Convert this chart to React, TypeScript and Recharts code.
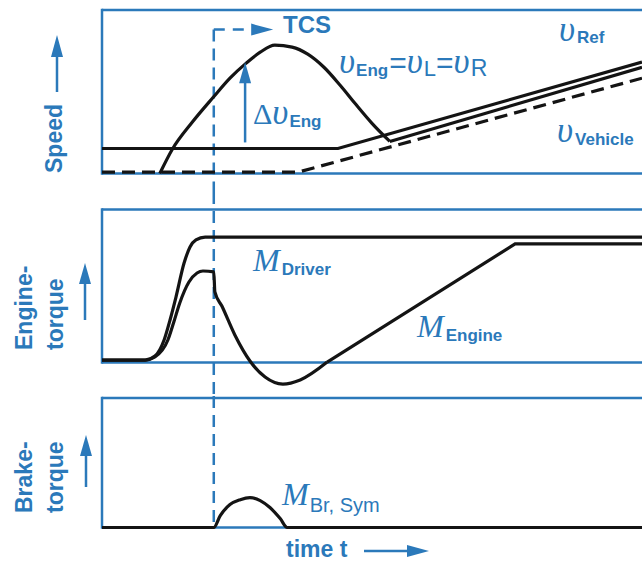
import { LineChart, Line, XAxis, YAxis, ReferenceLine, ReferenceDot } from 'recharts';

// time runs 0..100 across every panel, panel values are 0..100 inside their box
const tTCS = 20.7;

const speedRef = [
  { t: 0, v: 15.3 },
  { t: 43.7, v: 15.3 },
  { t: 100, v: 68.1 },
];

const speedVehicle = [
  { t: 0, v: 0.8 },
  { t: 36.3, v: 0.8 },
  { t: 100, v: 58.3 },
];

// engine speed flare until it locks onto the wheels
const speedEngFlare = [
  { t: 10.7, v: 0 },
  { t: 13.0, v: 14.7 },
  { t: 16.7, v: 31.3 },
  { t: 20.6, v: 46.6 },
  { t: 23.7, v: 58.3 },
  { t: 26.7, v: 67.5 },
  { t: 29.3, v: 74.2 },
  { t: 32.0, v: 78.5 },
  { t: 35.2, v: 77.3 },
  { t: 38.1, v: 73.0 },
  { t: 41.1, v: 65.0 },
  { t: 44.1, v: 54.0 },
  { t: 47.0, v: 42.3 },
  { t: 50.0, v: 30.7 },
  { t: 53.3, v: 19.6 },
];

const speedEngLocked = [
  { t: 53.3, v: 19.6 },
  { t: 100, v: 65.0 },
];

const deltaEngArrow = { t: 26.5, from: 19.0, to: 68.1 };

const torqueDriver = [
  { t: 0, v: 1.6 },
  { t: 8.0, v: 1.6 },
  { t: 9.8, v: 4.2 },
  { t: 11.5, v: 14.7 },
  { t: 12.6, v: 27.8 },
  { t: 13.7, v: 42.8 },
  { t: 15.2, v: 65.0 },
  { t: 16.3, v: 75.5 },
  { t: 17.4, v: 80.1 },
  { t: 19.1, v: 82.0 },
  { t: 100, v: 82.0 },
];

const torqueEngineCut = [
  { t: 0, v: 1.6 },
  { t: 8.0, v: 1.6 },
  { t: 9.8, v: 3.6 },
  { t: 12.2, v: 14.7 },
  { t: 13.3, v: 26.5 },
  { t: 14.4, v: 38.9 },
  { t: 16.1, v: 52.6 },
  { t: 17.6, v: 58.5 },
  { t: 18.7, v: 59.8 },
  { t: 20.7, v: 59.2 },
  { t: 20.9, v: 46.1 },
  { t: 22.2, v: 36.9 },
  { t: 24.6, v: 18.0 },
  { t: 27.4, v: 1.0 },
  { t: 30.2, v: -9.5 },
  { t: 33.5, v: -14.1 },
  { t: 36.7, v: -11.4 },
  { t: 41.7, v: 0.3 },
];

const torqueEngineRamp = [
  { t: 41.7, v: 0.3 },
  { t: 76.5, v: 77.5 },
  { t: 100, v: 77.5 },
];

const brakeSym = [
  { t: 0, v: 0 },
  { t: 20.7, v: 0 },
  { t: 21.9, v: 9.2 },
  { t: 23.7, v: 17.7 },
  { t: 25.6, v: 21.5 },
  { t: 27.4, v: 23.1 },
  { t: 29.3, v: 20.8 },
  { t: 31.1, v: 15.4 },
  { t: 33.0, v: 6.9 },
  { t: 34.3, v: 0 },
  { t: 100, v: 0 },
];

const tcsStart = 88;
const tcsArrowEnd = 31.7;

const BLUE = '#2b79ba';
const INK = '#141414';
const W = 642;
const LEFT = 102;

type Panel = { top: number; bottom: number; boxTop: number; boxBottom: number };

const speedPanel: Panel = { top: 0, bottom: 192, boxTop: 10, boxBottom: 173.5 };
const enginePanel: Panel = { top: 192, bottom: 396, boxTop: 209.5, boxBottom: 362.5 };
const brakePanel: Panel = { top: 396, bottom: 545, boxTop: 398, boxBottom: 527.5 };

const yDomain = (p: Panel): [number, number] => {
  const s = (p.boxBottom - p.boxTop) / 100;
  return [-(p.bottom - p.boxBottom) / s, 100 + (p.boxTop - p.top) / s];
};

const upHead = (props: any) => (
  <polygon
    points={`${props.cx},${props.cy} ${props.cx - 6},${props.cy + 21} ${props.cx + 6},${props.cy + 21}`}
    fill={BLUE}
  />
);

const rightHead = (props: any) => (
  <polygon
    points={`${props.cx},${props.cy} ${props.cx - 22},${props.cy - 6} ${props.cx - 22},${props.cy + 6}`}
    fill={BLUE}
  />
);

const PanelChart = ({ panel, children, tcsTop }: { panel: Panel; children: any; tcsTop?: number }) => {
  const domain = yDomain(panel);
  return (
    <div style={{ position: 'absolute', left: 0, top: panel.top }}>
      <LineChart width={W} height={panel.bottom - panel.top} margin={{ top: 0, right: 0, bottom: 0, left: LEFT }}>
        <XAxis type="number" dataKey="t" domain={[0, 100]} hide />
        <YAxis type="number" domain={domain} hide />
        <ReferenceLine y={100} stroke={BLUE} strokeWidth={2.5} />
        <ReferenceLine y={0} stroke={BLUE} strokeWidth={2.5} />
        <ReferenceLine segment={[{ x: 0, y: 0 }, { x: 0, y: 100 }]} stroke={BLUE} strokeWidth={2.5} strokeLinecap="square" />
        <ReferenceLine
          segment={[{ x: tTCS, y: tcsTop ?? domain[1] }, { x: tTCS, y: panel === brakePanel ? 0 : domain[0] }]}
          stroke={BLUE}
          strokeWidth={2.5}
          strokeDasharray="12 7"
        />
        {children}
      </LineChart>
    </div>
  );
};

const sans = 'Liberation Sans, Arial, sans-serif';
const sub = { fontFamily: sans, fontWeight: 700, fontSize: 17 };
const ital = { fontFamily: 'Liberation Serif, Times New Roman, serif', fontStyle: 'italic', fontSize: 35 };
const italM = { fontFamily: 'Liberation Serif, Times New Roman, serif', fontStyle: 'italic', fontSize: 32 };
const axisFont = { fontFamily: sans, fontWeight: 700, fontSize: 23 };

const Labels = () => (
  <svg width={W} height={562} style={{ position: 'absolute', left: 0, top: 0, pointerEvents: 'none' }}>
    <g fill={BLUE}>
      <text x={283} y={33} {...axisFont} fontSize={24}>TCS</text>

      <text x={559} y={41}>
        <tspan {...ital}>υ</tspan>
        <tspan {...sub} dx={2} dy={2}>Ref</tspan>
      </text>

      <text x={339} y={73}>
        <tspan {...ital}>υ</tspan>
        <tspan {...sub} dx={1} dy={3}>Eng</tspan>
        <tspan fontFamily={sans} fontSize={30} dx={1} dy={-3}>=</tspan>
        <tspan {...ital}>υ</tspan>
        <tspan fontFamily={sans} fontSize={22} dx={1} dy={3}>L</tspan>
        <tspan fontFamily={sans} fontSize={30} dy={-3}>=</tspan>
        <tspan {...ital}>υ</tspan>
        <tspan fontFamily={sans} fontSize={23} dx={1} dy={3}>R</tspan>
      </text>

      <text x={253} y={124}>
        <tspan fontFamily="Liberation Serif, serif" fontSize={30}>Δ</tspan>
        <tspan {...ital}>υ</tspan>
        <tspan {...sub} dx={1} dy={3}>Eng</tspan>
      </text>

      <text x={557} y={142}>
        <tspan {...ital}>υ</tspan>
        <tspan {...sub} dx={2} dy={3}>Vehicle</tspan>
      </text>

      <text x={253} y={271}>
        <tspan {...italM}>M</tspan>
        <tspan {...sub} dx={2} dy={4}>Driver</tspan>
      </text>

      <text x={417} y={337}>
        <tspan {...italM}>M</tspan>
        <tspan {...sub} dx={2} dy={4}>Engine</tspan>
      </text>

      <text x={282} y={505}>
        <tspan {...italM}>M</tspan>
        <tspan fontFamily={sans} fontSize={20} dx={1} dy={7}>Br, Sym</tspan>
      </text>

      <text x={62} y={173} transform="rotate(-90 62 173)" {...axisFont}>Speed</text>
      <text x={32} y={350} transform="rotate(-90 32 350)" {...axisFont}>Engine-</text>
      <text x={63} y={350} transform="rotate(-90 63 350)" {...axisFont}>torque</text>
      <text x={32} y={513} transform="rotate(-90 32 513)" {...axisFont}>Brake-</text>
      <text x={63} y={513} transform="rotate(-90 63 513)" {...axisFont}>torque</text>
      <text x={286} y={557} {...axisFont}>time t</text>
    </g>
    <g stroke={BLUE} strokeWidth={2.5}>
      <line x1={57} y1={92} x2={57} y2={52} />
      <line x1={85} y1={320} x2={85} y2={280} />
      <line x1={86} y1={487} x2={86} y2={452} />
      <line x1={364} y1={551} x2={410} y2={551} />
    </g>
    <g fill={BLUE}>
      <polygon points="57,35 51,57 63,57" />
      <polygon points="85,263 79,284 91,284" />
      <polygon points="86,435 80,456 92,456" />
      <polygon points="429,551 407,545 407,557" />
    </g>
  </svg>
);

export default function App() {
  return (
    <div style={{ position: 'absolute', left: 0, top: 0, width: W, height: 562, background: '#fff', overflow: 'hidden' }}>
      <PanelChart panel={speedPanel} tcsTop={tcsStart}>
        <ReferenceLine
          segment={[{ x: tTCS, y: tcsStart }, { x: 27.4, y: tcsStart }]}
          stroke={BLUE}
          strokeWidth={2.5}
          strokeDasharray="11 8"
        />
        <ReferenceDot x={tcsArrowEnd} y={tcsStart} shape={rightHead} />
        <ReferenceLine
          segment={[{ x: deltaEngArrow.t, y: deltaEngArrow.from }, { x: deltaEngArrow.t, y: deltaEngArrow.to - 10 }]}
          stroke={BLUE}
          strokeWidth={2.5}
        />
        <ReferenceDot x={deltaEngArrow.t} y={deltaEngArrow.to} shape={upHead} />
        <Line data={speedVehicle} dataKey="v" type="linear" stroke={INK} strokeWidth={3.2} strokeDasharray="13 7" dot={false} isAnimationActive={false} />
        <Line data={speedRef} dataKey="v" type="linear" stroke={INK} strokeWidth={3.2} dot={false} isAnimationActive={false} />
        <Line data={speedEngFlare} dataKey="v" type="monotone" stroke={INK} strokeWidth={3.2} dot={false} isAnimationActive={false} />
        <Line data={speedEngLocked} dataKey="v" type="linear" stroke={INK} strokeWidth={3.2} dot={false} isAnimationActive={false} />
      </PanelChart>

      <PanelChart panel={enginePanel}>
        <Line data={torqueDriver} dataKey="v" type="monotone" stroke={INK} strokeWidth={3.2} dot={false} isAnimationActive={false} />
        <Line data={torqueEngineCut} dataKey="v" type="monotone" stroke={INK} strokeWidth={3.2} dot={false} isAnimationActive={false} />
        <Line data={torqueEngineRamp} dataKey="v" type="linear" stroke={INK} strokeWidth={3.2} dot={false} isAnimationActive={false} />
      </PanelChart>

      <PanelChart panel={brakePanel}>
        <Line data={brakeSym} dataKey="v" type="monotone" stroke={INK} strokeWidth={3.2} dot={false} isAnimationActive={false} />
      </PanelChart>

      <Labels />
    </div>
  );
}
